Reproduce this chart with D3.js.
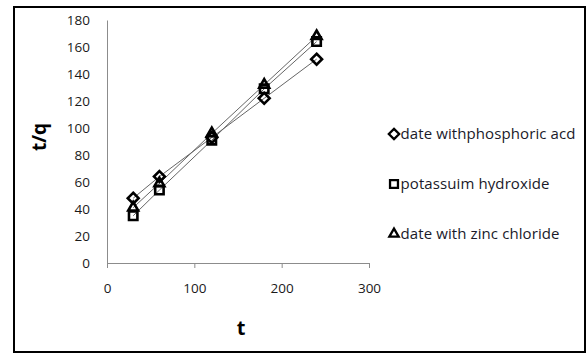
<!DOCTYPE html>
<html>
<head>
<meta charset="utf-8">
<script src="https://cdn.jsdelivr.net/npm/d3@7"></script>
<style>
  html, body { margin: 0; padding: 0; background: #fff; }
  svg { display: block; }
  text { font-family: "Open Sans", "DejaVu Sans", sans-serif; }
</style>
</head>
<body>
<svg id="chart" width="587" height="353"></svg>
<script>
// Contact time (t) and t/q values for the three adsorbents
const times = [30, 60, 120, 180, 240];
const phosphoric = [48, 64, 93, 122, 151];
const hydroxide = [35, 54, 91, 129, 164];
const zincChloride = [41, 59, 96, 132, 168];

const seriesNames = ["date withphosphoric acd", "potassuim hydroxide", "date with zinc chloride"];
const seriesShapes = ["diamond", "square", "triangle"];
const seriesValues = [phosphoric, hydroxide, zincChloride];

const xTicks = [0, 100, 200, 300];
const yTicks = [0, 20, 40, 60, 80, 100, 120, 140, 160, 180];

const svg = d3.select("#chart");

// outer frame
svg.append("rect")
  .attr("x", 14).attr("y", 7)
  .attr("width", 571).attr("height", 345)
  .attr("fill", "#fff").attr("stroke", "#000").attr("stroke-width", 2);

const x = d3.scaleLinear().domain([0, 300]).range([107, 369]);
const y = d3.scaleLinear().domain([0, 180]).range([263, 20]);

// axes
const xAxis = svg.append("g").attr("transform", `translate(0,${y(0)})`)
  .call(d3.axisBottom(x).tickValues(xTicks).tickSize(5).tickPadding(15));
const yAxis = svg.append("g").attr("transform", `translate(${x(0)},0)`)
  .call(d3.axisLeft(y).tickValues(yTicks).tickSize(0).tickPadding(17));

[xAxis, yAxis].forEach(g => {
  g.select(".domain").attr("stroke", "#8c8c8c").attr("stroke-width", 1);
  g.selectAll(".tick line").attr("stroke", "#8c8c8c");
  g.selectAll(".tick text").attr("fill", "#1a1a1a").style("font-size", "13.5px")
    .style("font-family", "'Open Sans', sans-serif");
});

// axis titles
svg.append("text").attr("x", 241).attr("y", 335)
  .attr("text-anchor", "middle").style("font-size", "20px").style("font-weight", "bold")
  .text("t");
svg.append("text")
  .attr("transform", `translate(46,137) rotate(-90)`)
  .attr("text-anchor", "middle").style("font-size", "19px").style("font-weight", "bold")
  .text("t/q");

const symbolType = {
  diamond: d3.symbolDiamond2,
  square: d3.symbolSquare2,
  triangle: d3.symbolTriangle2
};
const plotSize = { diamond: 75, square: 90, triangle: 70 };
const legendSize = { diamond: 68, square: 80, triangle: 62 };

const line = d3.line().x(d => x(d[0])).y(d => y(d[1]));

seriesValues.forEach((vals, i) => {
  const pts = times.map((t, j) => [t, vals[j]]);
  svg.append("path").datum(pts)
    .attr("d", line).attr("fill", "none")
    .attr("stroke", "#666").attr("stroke-width", 1);
});

seriesValues.forEach((vals, i) => {
  const shape = seriesShapes[i];
  const pts = times.map((t, j) => [t, vals[j]]);
  svg.append("g").selectAll("path").data(pts).join("path")
    .attr("transform", d => `translate(${x(d[0])},${y(d[1])})`)
    .attr("d", d3.symbol().type(symbolType[shape]).size(plotSize[shape]))
    .attr("fill", "none").attr("stroke", "#000").attr("stroke-width", 2.6);
});

// legend
const legendY = [134, 184, 234];
seriesNames.forEach((name, i) => {
  const shape = seriesShapes[i];
  const g = svg.append("g").attr("transform", `translate(394,${legendY[i]})`);
  g.append("path")
    .attr("d", d3.symbol().type(symbolType[shape]).size(legendSize[shape]))
    .attr("fill", "none").attr("stroke", "#000").attr("stroke-width", 2.3);
  g.append("text").attr("x", 6.5).attr("y", 5)
    .style("font-size", "15px").style("letter-spacing", "0.1px").attr("fill", "#1a1a2a")
    .text(name);
});
</script>
</body>
</html>
